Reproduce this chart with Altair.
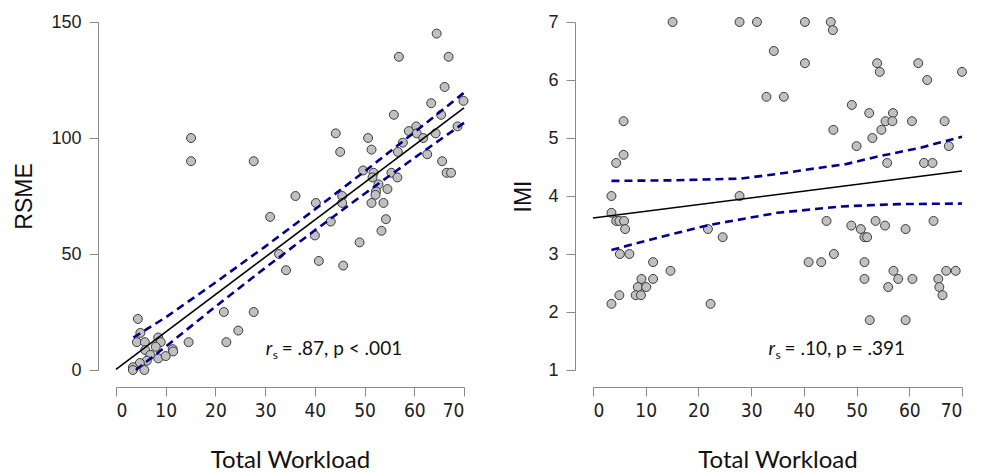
import altair as alt
import pandas as pd

# ---------------- data ----------------
# Left panel: Total Workload vs RSME
rsme_workload = [64.5, 56.9, 66.9, 66.1, 69.9, 63.4, 65.4, 55.9, 68.7, 15.1,
                 44.2, 50.7, 58.9, 60.4, 60.5, 61.8, 64.3, 57.7, 56.7, 51.4,
                 45.1, 62.6, 65.6, 15.1, 27.7, 66.5, 67.4, 49.7, 51.8, 51.6,
                 55.4, 56.6, 52.8, 54.6, 52.3, 52.2, 45.5, 36.1, 40.2, 45.5,
                 51.4, 53.8, 43.2, 54.3, 31.0, 53.4, 40.0, 49.0, 32.8, 40.8,
                 45.7, 34.2, 21.7, 27.7, 24.6, 22.2, 14.6, 4.4, 4.9, 4.2,
                 5.8, 8.5, 9.0, 8.0, 5.9, 11.4, 11.5, 6.9, 8.5, 10.0,
                 6.2, 4.8, 3.4, 3.4, 5.7]
rsme = [145, 135, 135, 122, 116, 115, 110, 110, 105, 100,
        102, 100, 103, 105, 102, 100, 102, 98, 94, 95,
        94, 93, 90, 90, 90, 85, 85, 86, 85, 83,
        85, 83, 80, 78, 77, 75.5, 75, 75, 72, 72,
        72, 72, 64, 65, 66, 60, 58, 55, 50, 47,
        45, 43, 25, 25, 17, 12, 12, 22, 16, 12,
        12, 14, 12, 10, 8.6, 9, 8, 6.5, 5, 6,
        4, 3, 1.2, 0, 0]

rsme_fit_x = [0, 70]
rsme_fit_y = [0.3, 113.0]
rsme_upper_x = [3.5, 10, 20, 30, 40, 50, 60, 70]
rsme_upper_y = [14.0, 22.7, 37.7, 53.2, 69.2, 85.6, 102.4, 119.5]
rsme_lower_x = [4.0, 10, 20, 30, 40, 50, 60, 70]
rsme_lower_y = [0.0, 10.1, 27.3, 44.0, 60.2, 76.0, 91.4, 106.5]

# Right panel: Total Workload vs IMI
imi_workload = [15.1, 27.8, 31.1, 40.2, 45.1, 45.5, 34.3, 40.2, 53.9, 54.4,
                61.7, 63.4, 70.0, 32.9, 36.2, 49.1, 52.4, 56.9, 55.5, 56.8,
                60.5, 66.7, 5.8, 54.7, 45.6, 53.0, 50.0, 67.5, 5.8, 4.4,
                55.8, 62.8, 64.4, 3.5, 27.8,
                3.5, 4.4, 5.0, 5.9, 6.1, 21.8, 24.6, 5.1, 6.9, 11.4,
                14.7, 9.2, 11.4, 8.5, 10.1, 8.1, 9.1, 5.0, 3.5, 22.3,
                44.3, 49.0, 50.8, 53.6, 55.4, 59.3, 64.6, 51.5, 52.0, 40.9,
                43.3, 45.7, 51.5, 51.5, 57.0, 57.9, 60.6, 56.0, 65.5, 67.0,
                68.8, 65.7, 66.3, 52.5, 59.3]
imi = [7.0, 7.0, 7.0, 7.0, 7.0, 6.86, 6.5, 6.29, 6.29, 6.14,
       6.29, 6.0, 6.14, 5.71, 5.71, 5.57, 5.43, 5.43, 5.29, 5.29,
       5.29, 5.29, 5.29, 5.14, 5.14, 5.0, 4.86, 4.86, 4.71, 4.57,
       4.57, 4.57, 4.57, 4.0, 4.0,
       3.71, 3.57, 3.57, 3.57, 3.43, 3.43, 3.29, 3.0, 3.0, 2.86,
       2.71, 2.57, 2.57, 2.43, 2.43, 2.29, 2.29, 2.29, 2.14, 2.14,
       3.57, 3.49, 3.43, 3.57, 3.49, 3.43, 3.57, 3.29, 3.29, 2.86,
       2.86, 3.0, 2.86, 2.57, 2.71, 2.57, 2.57, 2.43, 2.57, 2.71,
       2.71, 2.43, 2.29, 1.86, 1.86]

imi_fit_x = [0, 70]
imi_fit_y = [3.62, 4.43]
imi_upper_x = [3.5, 15, 28, 35, 42.5, 48, 54, 62, 70]
imi_upper_y = [4.26, 4.27, 4.30, 4.38, 4.48, 4.55, 4.68, 4.83, 5.02]
imi_lower_x = [3.5, 12.7, 22, 35, 47, 58, 70]
imi_lower_y = [3.07, 3.29, 3.50, 3.71, 3.82, 3.86, 3.87]

x_ticks = [0, 10, 20, 30, 40, 50, 60, 70]
rsme_ticks = [0, 50, 100, 150]
imi_ticks = [1, 2, 3, 4, 5, 6, 7]

rsme_note = {"x": 30.1, "y": 6.5, "rest": "= .87, p < .001"}
imi_note = {"x": 33.3, "y": 1.26, "rest": "= .10, p = .391"}

# ---------------- styling ----------------
AX_GRAY = "#8a8a8a"
LBL_FONT = "Liberation Sans"
XLBL_FONT = "Liberation Sans Narrow, DejaVu Sans Condensed, Liberation Sans"
TITLE_X_FONT = "Lato"


def panel(px, py, fx, fy, ux, uy, lx, ly, ydom, yticks, ytitle, note,
          width, height, y_title_pad):
    pts = pd.DataFrame({"x": px, "y": py})
    fit = pd.DataFrame({"x": fx, "y": fy})
    band = pd.concat([
        pd.DataFrame({"x": ux, "y": uy, "b": "upper"}),
        pd.DataFrame({"x": lx, "y": ly, "b": "lower"}),
    ])
    xs = alt.Scale(domain=[0, 70], nice=False, zero=False)
    ys = alt.Scale(domain=ydom, nice=False, zero=False)
    xaxis = alt.Axis(values=x_ticks, offset=17, tickSize=9, grid=False,
                     format="d",
                     domainColor=AX_GRAY, tickColor=AX_GRAY, domainWidth=1,
                     labelFont=XLBL_FONT, labelFontSize=19,
                     labelColor="#222", labelPadding=5,
                     title="Total Workload", titleFont=TITLE_X_FONT,
                     titleFontSize=24, titleFontWeight="normal",
                     titleColor="#111", titlePadding=28)
    yaxis = alt.Axis(values=yticks, offset=18, tickSize=9, grid=False,
                     format="d",
                     domainColor=AX_GRAY, tickColor=AX_GRAY, domainWidth=1,
                     labelFont=LBL_FONT, labelFontSize=18, labelColor="#222",
                     labelPadding=8,
                     title=ytitle, titleFont=LBL_FONT, titleFontSize=23,
                     titleFontWeight="normal", titleColor="#111",
                     titlePadding=y_title_pad)
    X = alt.X("x:Q", scale=xs, axis=xaxis)
    Y = alt.Y("y:Q", scale=ys, axis=yaxis)

    band_layer = alt.Chart(band).mark_line(
        color="#00008b", strokeWidth=2.6, strokeDash=[8, 5]
    ).encode(x=alt.X("x:Q", scale=xs), y=alt.Y("y:Q", scale=ys), detail="b:N")
    fit_layer = alt.Chart(fit).mark_line(color="black", strokeWidth=1.6).encode(
        x=alt.X("x:Q", scale=xs), y=alt.Y("y:Q", scale=ys))
    pt_layer = alt.Chart(pts).mark_circle(
        size=80, fill="#c0c0c0", stroke="#3a3a3a", strokeWidth=1, opacity=1
    ).encode(x=X, y=Y)

    nd = pd.DataFrame([note])
    base = alt.Chart(nd).encode(x=alt.X("x:Q", scale=xs), y=alt.Y("y:Q", scale=ys))
    r_txt = base.mark_text(text="r", font="Lato", fontStyle="italic",
                           fontSize=19, align="left", baseline="alphabetic",
                           color="#111")
    s_txt = base.mark_text(text="s", font="Lato", fontSize=12, align="left",
                           baseline="alphabetic", dx=7, dy=4, color="#111")
    rest = base.mark_text(font="Lato", fontSize=19, align="left",
                          baseline="alphabetic", dx=16, color="#111").encode(
        text="rest:N")

    return alt.layer(pt_layer, band_layer, fit_layer, r_txt, s_txt, rest).properties(
        width=width, height=height)


left = panel(rsme_workload, rsme, rsme_fit_x, rsme_fit_y, rsme_upper_x,
             rsme_upper_y, rsme_lower_x, rsme_lower_y, [0, 150], rsme_ticks,
             "RSME", rsme_note, 348, 348, 14)
right = panel(imi_workload, imi, imi_fit_x, imi_fit_y, imi_upper_x,
              imi_upper_y, imi_lower_x, imi_lower_y, [1, 7], imi_ticks,
              "IMI", imi_note, 369, 348, 12)

chart = alt.hconcat(left, right, spacing=129).properties(
    bounds="flush",
    padding={"left": 5, "top": 5, "right": 5, "bottom": 0},
).configure_view(stroke=None)

chart.save("out.html", embed_options={"renderer": "svg", "actions": False})
